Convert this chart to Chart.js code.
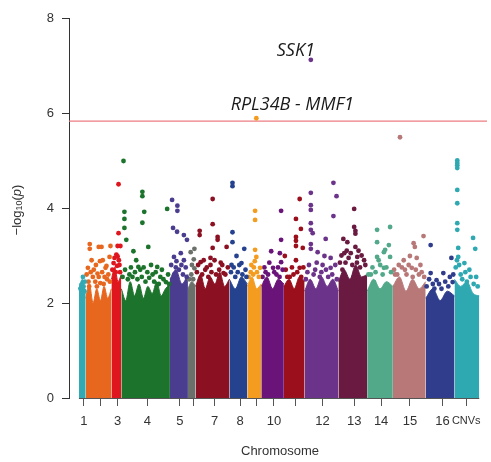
<!DOCTYPE html>
<html>
<head>
<meta charset="utf-8">
<script src="https://cdn.jsdelivr.net/npm/chart.js@4/dist/chart.umd.min.js"></script>
<style>
  html, body { margin: 0; padding: 0; background: #fff; }
  #wrap { width: 491px; height: 462px; }
</style>
</head>
<body>
<div id="wrap"><canvas id="manhattan" width="491" height="462"></canvas></div>
<script>
// Chromosome bands (genome position, Mb) and colours
const chromLabels = ['1','2','3','4','5','6','7','8','9','10','11','12','13','14','15','16','CNVs'];
const bandEdges = [-0.03, 0.19, 1.02, 1.34, 2.91, 3.49, 3.74, 4.83, 5.41, 5.86, 6.59, 7.26, 8.35, 9.28, 10.11, 11.17, 12.10, 12.90];
const chromColors = ['#33a9b4','#e8671f','#e0161f','#1c732b','#4a3d8f','#6b716a','#8a1022','#25428f',
                     '#f39c1f','#6a1479','#9b0f1c','#6b3389','#6a1a41','#52a98a','#b87878','#2f3d8c','#2fa9b1'];

// x-axis tick positions and printed labels (R drops the crowded ones)
const tickPositions = [0.13, 0.67, 1.22, 2.18, 3.23, 3.68, 4.35, 5.18, 5.70, 6.27, 6.98, 7.84, 8.86, 9.73, 10.66, 11.71, 12.48];
const tickLabels = ['1','','3','4','5','','7','8','','10','','12','13','14','15','16','CNVs'];
const yTicks = [0, 2, 4, 6, 8];

// genome-wide significance threshold, -log10(p)
const threshold = 5.83;

// height of the dense (overplotted) part of each chromosome, read left to right
const denseTops = [
  [2.3, 2.5, 2.2],
  [2.1, 2.4, 2.0, 2.3, 2.05, 2.35, 2.1, 2.3],
  [2.5, 2.75, 2.45, 2.6],
  [2.3, 2.05, 2.45, 2.15, 2.4, 2.1, 2.35, 2.2, 2.45, 2.15, 2.3, 2.4],
  [2.5, 2.7, 2.4, 2.6],
  [2.3, 2.45, 2.35],
  [2.35, 2.6, 2.3, 2.55, 2.4, 2.65, 2.35, 2.5],
  [2.5, 2.3, 2.55, 2.4],
  [2.35, 2.55, 2.3, 2.4],
  [2.35, 2.55, 2.3, 2.5, 2.4],
  [2.35, 2.5, 2.3, 2.55, 2.45],
  [2.25, 2.5, 2.3, 2.55, 2.35, 2.5, 2.25],
  [2.45, 2.7, 2.5, 2.8, 2.55, 2.6],
  [2.25, 2.5, 2.3, 2.45, 2.35],
  [2.35, 2.55, 2.25, 2.5, 2.3, 2.45],
  [2.1, 2.3, 2.05, 2.25, 2.15],
  [2.5, 2.35, 2.45, 2.2, 2.15]
];

// single markers above the dense part: [position Mb, -log10(p)]
const chr1Pts = [[0.10,2.55],[0.16,2.45],[0.05,2.38],[0.02,2.3],[0.12,2.35],[0.08,2.2],[0.15,2.25]];
const chr2Pts = [[0.32,3.24],[0.32,3.14],[0.61,3.18],[0.70,3.18],[0.99,3.2],[0.38,2.9],[0.74,2.9],[0.96,2.97],
                 [0.83,2.74],[0.26,2.74],[0.61,2.55],[0.42,2.55],[0.50,2.45],[0.88,2.5],
                 [0.22,2.6],[0.28,2.45],[0.35,2.65],[0.45,2.7],[0.52,2.8],[0.57,2.62],[0.66,2.42],[0.72,2.65],
                 [0.80,2.55],[0.86,2.78],[0.92,2.6],[0.97,2.45],[0.30,2.35],[0.55,2.35],[0.77,2.4],[0.65,2.88]];
const chr3Pts = [[1.25,4.5],[1.25,3.47],[1.22,3.2],[1.31,3.2],[1.18,3.02],[1.22,2.98],[1.09,2.84],[1.28,2.8],
                 [1.05,2.7],[1.12,2.95],[1.16,2.65],[1.26,2.9],[1.30,2.65],[1.20,2.78]];
const chr4Pts = [[1.41,4.99],[2.02,4.34],[2.02,4.25],[1.44,3.92],[2.08,3.92],[1.44,3.77],[2.02,3.69],[1.44,3.58],
                 [1.50,3.33],[2.21,3.18],[2.82,3.98],[1.73,3.09],[1.82,2.9],[2.30,2.8],[2.50,2.76],[1.89,2.76],
                 [2.24,2.53],[2.78,2.44],[1.60,2.6],[2.60,2.55],
                 [1.38,2.55],[1.46,2.7],[1.55,2.5],[1.65,2.75],[1.70,2.55],[1.78,2.65],[1.86,2.5],[1.95,2.7],
                 [2.00,2.55],[2.06,2.75],[2.12,2.45],[2.18,2.65],[2.35,2.6],[2.40,2.45],[2.45,2.65],[2.55,2.4],
                 [2.65,2.7],[2.70,2.5],[2.85,2.6],[2.88,2.4]];
const chr5Pts = [[2.98,4.17],[3.15,4.05],[3.15,3.94],[3.01,3.58],[3.14,3.5],[3.36,3.43],[3.46,3.33],[3.04,2.97],
                 [3.26,3.05],[3.36,2.9],[3.10,2.75],
                 [2.95,2.8],[3.05,2.6],[3.12,2.88],[3.20,2.7],[3.28,2.8],[3.33,2.6],[3.42,2.75],[3.45,2.55]];
const chr6Pts = [[3.70,3.14],[3.58,3.07],[3.68,2.92],[3.70,2.73],[3.60,2.6],[3.53,2.5],[3.62,2.8],[3.66,2.5]];
const chr7Pts = [[4.29,4.19],[3.87,3.52],[3.87,3.43],[4.29,3.66],[4.45,3.39],[4.45,3.33],[4.74,3.18],[4.29,3.16],
                 [4.22,2.95],[4.22,2.8],[3.90,2.86],[4.64,2.63],[4.05,2.7],[4.55,2.85],
                 [3.78,2.65],[3.82,2.8],[3.95,2.6],[4.00,2.9],[4.10,2.75],[4.15,2.55],[4.25,2.65],[4.35,2.9],
                 [4.40,2.6],[4.50,2.7],[4.60,2.8],[4.70,2.6],[4.78,2.75]];
const chr8Pts = [[4.93,4.53],[4.93,4.46],[4.93,3.49],[4.93,3.28],[5.31,3.14],[5.06,2.99],[4.90,2.8],[5.22,2.84],[5.10,2.65],
                 [4.88,2.65],[4.97,2.75],[5.02,2.55],[5.15,2.8],[5.25,2.6],[5.35,2.7],[5.38,2.55]];
const chr9Pts = [[5.70,5.89],[5.66,3.94],[5.66,3.75],[5.66,3.12],[5.70,2.97],[5.54,2.8],[5.82,2.74],[5.60,2.6],
                 [5.45,2.55],[5.52,2.65],[5.62,2.75],[5.72,2.65],[5.78,2.55],[5.65,2.88]];
const chr10Pts = [[6.50,3.94],[6.50,3.33],[6.18,3.09],[6.46,3.05],[6.50,2.86],[6.24,2.74],[6.00,2.65],[6.35,2.6],
                  [5.90,2.55],[5.96,2.75],[6.08,2.6],[6.12,2.85],[6.28,2.65],[6.40,2.75],[6.45,2.55],[6.55,2.7]];
const chr11Pts = [[7.10,4.19],[6.98,3.77],[7.14,3.56],[6.98,3.39],[6.98,3.31],[6.98,3.2],[7.20,3.16],[6.62,2.99],
                  [6.98,2.9],[7.10,2.74],[6.78,2.55],
                  [6.65,2.7],[6.70,2.55],[6.85,2.75],[6.90,2.6],[7.02,2.65],[7.15,2.55],[7.22,2.75]];
const chr12Pts = [[7.46,7.12],[8.19,4.53],[7.46,4.32],[8.29,4.25],[7.46,4.06],[7.46,3.96],[8.19,3.83],[7.46,3.68],
                  [7.46,3.54],[7.52,3.47],[7.94,3.35],[7.46,3.24],[7.46,3.14],[7.68,3.07],[7.90,2.99],[8.10,2.95],
                  [7.84,2.8],[8.10,2.74],[7.60,2.7],[7.35,2.65],
                  [7.30,2.5],[7.40,2.8],[7.55,2.6],[7.65,2.85],[7.75,2.55],[7.80,2.65],[7.95,2.7],[8.02,2.55],
                  [8.15,2.6],[8.25,2.8],[8.30,2.5]];
const chr13Pts = [[8.86,3.98],[8.86,3.6],[8.90,3.52],[8.90,3.46],[8.51,3.35],[8.64,3.28],[8.90,3.18],[8.54,3.05],
                  [8.96,2.97],[9.18,2.9],[8.48,2.7],[8.80,2.8],[9.05,2.75],
                  [8.40,2.85],[8.45,3.0],[8.58,2.85],[8.68,2.95],[8.75,3.05],[8.95,2.85],[9.10,3.0],[9.22,2.8],
                  [8.62,3.1],[9.00,3.1]];
const chr14Pts = [[9.60,3.54],[10.02,3.6],[9.60,3.28],[9.82,3.07],[9.98,3.22],[9.86,3.12],[9.60,2.97],[10.02,2.97],
                  [9.82,2.74],[9.50,2.44],[9.40,2.6],
                  [9.32,2.6],[9.45,2.75],[9.55,2.65],[9.70,2.8],[9.78,2.6],[9.90,2.75],[10.05,2.65],[9.65,2.9]];
const chr15Pts = [[10.34,5.49],[11.10,3.41],[10.78,3.26],[10.82,3.18],[10.66,2.99],[10.46,2.9],[10.88,2.95],[10.30,2.8],
                  [10.72,2.74],[11.04,2.65],[10.18,2.6],[10.55,2.6],
                  [10.15,2.7],[10.25,2.6],[10.40,2.75],[10.50,2.7],[10.62,2.8],[10.75,2.55],[10.85,2.7],[10.95,2.6],
                  [11.00,2.8],[11.12,2.55]];
const chr16Pts = [[11.33,3.22],[12.00,2.95],[11.33,2.63],[11.74,2.63],[11.52,2.48],[12.04,2.44],[11.40,2.4],
                  [11.20,2.35],[11.28,2.5],[11.45,2.3],[11.60,2.4],[11.68,2.3],[11.80,2.45],[11.90,2.35],[11.95,2.55],
                  [12.06,2.6]];
const cnvPts = [[12.19,5.0],[12.19,4.95],[12.19,4.9],[12.19,4.84],[12.19,4.38],[12.19,4.1],[12.19,3.68],[12.19,3.54],
                [12.70,3.37],[12.77,3.14],[12.22,3.16],[12.22,2.97],[12.42,2.84],[12.58,2.7],[12.80,2.55],[12.30,2.6],
                [12.14,2.75],[12.25,2.8],[12.35,2.5],[12.45,2.65],[12.50,2.45],[12.62,2.55],[12.72,2.4],[12.85,2.35],
                [12.18,2.9]];

const topPoints = [chr1Pts, chr2Pts, chr3Pts, chr4Pts, chr5Pts, chr6Pts, chr7Pts, chr8Pts, chr9Pts,
                   chr10Pts, chr11Pts, chr12Pts, chr13Pts, chr14Pts, chr15Pts, chr16Pts, cnvPts];

// labelled hits
const hits = [
  { label: 'SSK1', x: 7.46, y: 7.12 },
  { label: 'RPL34B - MMF1', x: 5.70, y: 5.89 }
];

const axisFont = "'Liberation Sans', Arial, Helvetica, sans-serif";

// build datasets
const datasets = [];
chromLabels.forEach((name, i) => {
  datasets.push({
    label: 'chr ' + name,
    data: topPoints[i].map(p => ({ x: p[0], y: p[1] })),
    backgroundColor: chromColors[i],
    pointRadius: 2.4,
    pointBorderWidth: 0,
    order: 0
  });
});
chromLabels.forEach((name, i) => {
  const start = bandEdges[i], end = bandEdges[i + 1];
  const tops = denseTops[i];
  const step = (end - start) / (tops.length - 1);
  datasets.push({
    label: 'dense ' + name,
    data: tops.map((t, k) => ({ x: start + k * step, y: t })),
    showLine: true,
    fill: 'origin',
    backgroundColor: chromColors[i],
    borderColor: chromColors[i],
    borderWidth: 1,
    pointRadius: 0,
    cubicInterpolationMode: 'monotone',
    order: 1
  });
});

// threshold line, x-axis line, hit labels, y-axis title
const extras = {
  id: 'extras',
  beforeDatasetsDraw(chart) {
    const { ctx, chartArea, scales: { y } } = chart;
    const ty = y.getPixelForValue(threshold);
    ctx.save();
    ctx.strokeStyle = '#ee7d82';
    ctx.lineWidth = 1.3;
    ctx.beginPath();
    ctx.moveTo(chartArea.left, ty);
    ctx.lineTo(chartArea.right, ty);
    ctx.stroke();
    ctx.restore();
  },
  afterDatasetsDraw(chart) {
    const { ctx, chartArea, scales: { x, y } } = chart;
    ctx.save();

    // x axis line under the bands
    const by = Math.round(chartArea.bottom) + 0.5;
    ctx.strokeStyle = '#555';
    ctx.lineWidth = 1;
    ctx.beginPath();
    ctx.moveTo(x.getPixelForValue(bandEdges[0]), by);
    ctx.lineTo(x.getPixelForValue(bandEdges[bandEdges.length - 1]), by);
    ctx.stroke();

    // gene labels
    ctx.fillStyle = '#1a1a1a';
    ctx.font = "italic 18px 'Open Sans', 'Noto Sans', sans-serif";
    ctx.textAlign = 'center';
    ctx.textBaseline = 'alphabetic';
    const offsets = [[-15, -4], [36, -8]];
    hits.forEach((h, i) => {
      ctx.fillText(h.label, x.getPixelForValue(h.x) + offsets[i][0], y.getPixelForValue(h.y) + offsets[i][1]);
    });

    // x title
    ctx.fillStyle = '#333';
    ctx.font = '13px ' + axisFont;
    ctx.textBaseline = 'middle';
    ctx.fillText('Chromosome', 280, 451);

    // y title: -log10(p)
    ctx.translate(17, 210);
    ctx.rotate(-Math.PI / 2);
    const parts = [
      { t: '\u2212log', f: '13px ' + axisFont, dy: 0 },
      { t: '10', f: '9px ' + axisFont, dy: 3 },
      { t: '(', f: '13px ' + axisFont, dy: 0 },
      { t: 'p', f: 'italic 13px ' + axisFont, dy: 0 },
      { t: ')', f: '13px ' + axisFont, dy: 0 }
    ];
    let total = 0;
    parts.forEach(p => { ctx.font = p.f; p.w = ctx.measureText(p.t).width; total += p.w; });
    let cx = -total / 2;
    ctx.textAlign = 'left';
    parts.forEach(p => {
      ctx.font = p.f;
      ctx.fillText(p.t, cx, p.dy);
      cx += p.w;
    });
    ctx.restore();
  }
};

new Chart(document.getElementById('manhattan').getContext('2d'), {
  type: 'scatter',
  data: { datasets: datasets },
  options: {
    responsive: false,
    animation: false,
    layout: { padding: { top: 18, right: 0, left: 0, bottom: 0 } },
    plugins: {
      legend: { display: false },
      tooltip: { enabled: false }
    },
    scales: {
      x: {
        type: 'linear',
        min: -0.35,
        max: 13.15,
        border: { display: false },
        grid: { drawOnChartArea: false, drawTicks: true, tickLength: 8, color: '#555' },
        afterBuildTicks: axis => { axis.ticks = tickPositions.map(v => ({ value: v })); },
        afterFit: scale => { scale.height = 64; },
        ticks: {
          autoSkip: false,
          maxRotation: 0,
          padding: 8,
          color: '#333',
          font: ctx => ({ family: axisFont, size: (ctx.tick && tickLabels[ctx.index] === 'CNVs') ? 11 : 13 }),
          callback: (value, index) => tickLabels[index]
        }
      },
      y: {
        min: 0,
        max: 8,
        border: { display: true, color: '#333', width: 1 },
        grid: { drawOnChartArea: false, drawTicks: true, tickLength: 7, color: '#333' },
        afterBuildTicks: axis => { axis.ticks = yTicks.map(v => ({ value: v })); },
        afterFit: scale => { scale.width = 69; },
        ticks: {
          padding: 8,
          color: '#333',
          font: { family: axisFont, size: 13 }
        }
      }
    }
  },
  plugins: [extras]
});
</script>
</body>
</html>
